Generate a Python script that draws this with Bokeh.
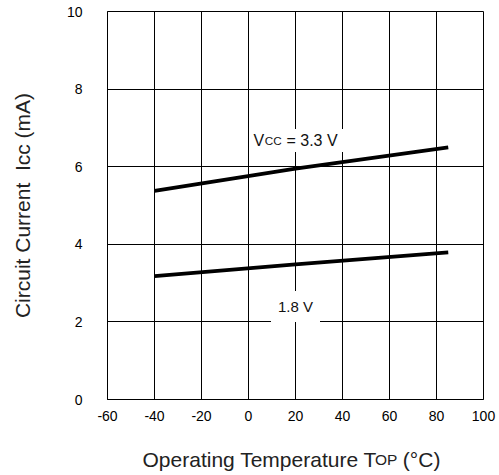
from bokeh.plotting import figure
from bokeh.models import FixedTicker, Label, Range1d
from bokeh.layouts import column
from bokeh.embed import file_html
from bokeh.resources import INLINE

# Data
temps = [-40, 20, 85]
icc_33 = [5.38, 5.95, 6.50]
icc_18 = [3.18, 3.48, 3.79]

x_ticks = [-60, -40, -20, 0, 20, 40, 60, 80, 100]
y_ticks = [0, 2, 4, 6, 8, 10]
x_tick_labels = ["-60", "-40", "-20", "0", "20", "40", "60", "80", "100"]
y_tick_labels = ["0", "2", "4", "6", "8", "10"]

FONT = "Liberation Sans"
NB = "\u00a0"

p = figure(width=499, height=440, output_backend="svg", toolbar_location=None,
           x_range=Range1d(-60, 100), y_range=Range1d(0, 10),
           min_border_left=107, min_border_right=16, min_border_top=11, min_border_bottom=41)
p.background_fill_color = "white"
p.border_fill_color = "white"
p.outline_line_color = "black"
p.outline_line_width = 1

for ax in (p.xaxis[0], p.yaxis[0]):
    ax.major_tick_out = 0
    ax.major_tick_in = 0
    ax.minor_tick_out = 0
    ax.minor_tick_in = 0
    ax.axis_line_color = "black"
    ax.major_label_text_font = FONT
    ax.major_label_text_font_size = "14px"
    ax.major_label_text_color = "black"

p.xaxis.ticker = FixedTicker(ticks=x_ticks)
p.yaxis.ticker = FixedTicker(ticks=y_ticks)
p.xaxis.major_label_overrides = dict(zip(x_ticks, x_tick_labels))
p.yaxis.major_label_overrides = dict(zip(y_ticks, y_tick_labels))
p.xaxis.major_label_standoff = 11
p.yaxis.major_label_standoff = 25

p.yaxis.axis_label = "Circuit Current " + NB + "Icc (mA)"
p.yaxis.axis_label_text_font = FONT
p.yaxis.axis_label_text_font_size = "21px"
p.yaxis.axis_label_text_font_style = "normal"
p.yaxis.axis_label_text_color = "#222222"
p.yaxis.axis_label_standoff = 30

for g in (p.xgrid[0], p.ygrid[0]):
    g.grid_line_color = "black"
    g.grid_line_width = 1
    g.grid_line_alpha = 1
p.xgrid.ticker = FixedTicker(ticks=x_ticks)
p.ygrid.ticker = FixedTicker(ticks=y_ticks)

p.line(temps, icc_33, line_color="black", line_width=3.8)
p.line(temps, icc_18, line_color="black", line_width=3.8)

# Curve labels
vx, vy = 0.85, 6.675
p.add_layout(Label(x=vx, y=vy, x_offset=28.5, text=NB + "= 3.3 V" + NB, text_font=FONT,
                   text_font_size="16px", text_color="#111111", text_baseline="alphabetic",
                   background_fill_color="white", padding=3))
p.add_layout(Label(x=vx, y=vy, text="V", text_font=FONT, text_font_size="16px",
                   text_color="#111111", text_baseline="alphabetic",
                   background_fill_color="white", padding=3))
p.add_layout(Label(x=vx, y=vy, x_offset=14.2, text="CC", text_font=FONT, text_font_size="11.7px",
                   text_color="#111111", text_baseline="alphabetic", padding=0))

p.add_layout(Label(x=20, y=2.40, text="1.8 V", text_font=FONT, text_font_size="15px",
                   text_color="#111111", text_baseline="alphabetic", text_align="center",
                   background_fill_color="white", padding=7))

# X axis title strip (separate figure sharing the x range), with small-caps "OP"
p2 = figure(width=499, height=35, output_backend="svg", toolbar_location=None,
            x_range=p.x_range, y_range=Range1d(0, 35),
            x_axis_type=None, y_axis_type=None,
            min_border_left=107, min_border_right=16, min_border_top=0, min_border_bottom=0)
p2.outline_line_color = None
p2.xgrid.visible = False
p2.ygrid.visible = False
p2.background_fill_color = "white"
p2.border_fill_color = "white"

tx, ty = -45.1, 16
p2.add_layout(Label(x=tx, y=ty, text="Operating Temperature T", text_font=FONT, text_font_size="21px",
                    text_color="#222222", text_baseline="alphabetic"))
p2.add_layout(Label(x=tx, y=ty, x_offset=232.5, text="OP", text_font=FONT, text_font_size="15.5px",
                    text_color="#222222", text_baseline="alphabetic"))
p2.add_layout(Label(x=tx, y=ty, x_offset=254.5, text=NB + "(°C)", text_font=FONT, text_font_size="21px",
                    text_color="#222222", text_baseline="alphabetic"))

layout = column(p, p2, spacing=0)
open("out.html", "w").write(file_html(layout, INLINE))
